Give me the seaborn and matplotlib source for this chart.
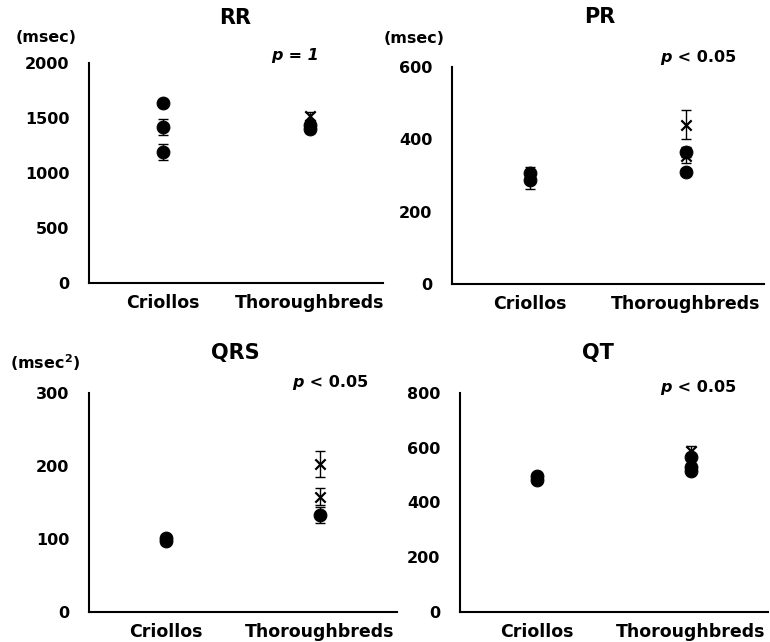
import matplotlib
matplotlib.use("Agg")
import matplotlib.pyplot as plt
import seaborn as sns
import pandas as pd

# categorías
grupos = ["Criollos", "Thoroughbreds"]

# RR (msec)
rr_crio = [1640, 1418, 1191]
rr_crio_err = [20, 73, 76]
rr_thor_circ = [1434, 1397]
rr_thor_circ_err = [30, 30]
rr_thor_x = [1520]
rr_thor_x_err = [35]

# PR (msec)
pr_crio = [308, 287]
pr_crio_err = [15, 25]
pr_thor_circ = [365, 310]
pr_thor_circ_err = [15, 8]
pr_thor_x = [440, 355]
pr_thor_x_err = [40, 20]

# QRS (msec2)
qrs_crio = [101, 97]
qrs_crio_err = [4, 4]
qrs_thor_circ = [133]
qrs_thor_circ_err = [11]
qrs_thor_x = [203, 158]
qrs_thor_x_err = [18, 12]

# QT (msec)
qt_crio = [495, 482]
qt_crio_err = [10, 10]
qt_thor_circ = [565, 530, 515]
qt_thor_circ_err = [10, 10, 10]
qt_thor_x = [588]
qt_thor_x_err = [20]

sns.set_theme(style="white")
plt.rcParams["font.family"] = ["DejaVu Sans"]
plt.rcParams["text.color"] = "black"
plt.rcParams["xtick.color"] = "black"
plt.rcParams["ytick.color"] = "black"

fig = plt.figure(figsize=(7.7, 6.42), dpi=100)

W, H = 770, 642


def caixa(l, t, r, b):
    return [l / W, 1 - b / H, (r - l) / W, (b - t) / H]


# titulo, posição, ymax, passo, unidade, (x,y) unidade, (x,y) título, (x,y) p, texto p, tudo itálico
paineis = [
    ("RR", caixa(89, 63, 383, 283), 2000, 500, "(msec)", (-0.25, 1.114), (0.497, 1.205),
     (0.62, 1.036), " = 1", True,
     rr_crio, rr_crio_err, rr_thor_circ, rr_thor_circ_err, rr_thor_x, rr_thor_x_err),
    ("PR", caixa(452, 67, 764, 284), 600, 200, "(msec)", (-0.22, 1.133), (0.474, 1.23),
     (0.667, 1.046), " < 0.05", False,
     pr_crio, pr_crio_err, pr_thor_circ, pr_thor_circ_err, pr_thor_x, pr_thor_x_err),
    ("QRS", caixa(89, 393, 397, 612), 300, 100, "(msec$^{\\mathbf{2}}$)", (-0.256, 1.137),
     (0.474, 1.183), (0.66, 1.046), " < 0.05", False,
     qrs_crio, qrs_crio_err, qrs_thor_circ, qrs_thor_circ_err, qrs_thor_x, qrs_thor_x_err),
    ("QT", caixa(460, 393, 768, 612), 800, 200, None, None, (0.448, 1.183),
     (0.65, 1.027), " < 0.05", False,
     qt_crio, qt_crio_err, qt_thor_circ, qt_thor_circ_err, qt_thor_x, qt_thor_x_err),
]

for (titulo, pos, ymax, passo, unidade, pos_un, pos_tit, pos_p, resto, todo_italico,
     crio, crio_err, tc, tc_err, tx, tx_err) in paineis:
    ax = fig.add_axes(pos)

    circ = pd.DataFrame({
        "grupo": [grupos[0]] * len(crio) + [grupos[1]] * len(tc),
        "valor": crio + tc,
        "erro": crio_err + tc_err,
    })
    xs = pd.DataFrame({
        "grupo": [grupos[1]] * len(tx),
        "valor": tx,
        "erro": tx_err,
    })

    ax.errorbar(circ["grupo"], circ["valor"], yerr=circ["erro"], fmt="none",
                ecolor="black", elinewidth=1, capsize=3.5, capthick=1, zorder=2)
    ax.errorbar(xs["grupo"], xs["valor"], yerr=xs["erro"], fmt="none",
                ecolor="black", elinewidth=1, capsize=3.5, capthick=1, zorder=2)
    sns.scatterplot(data=circ, x="grupo", y="valor", ax=ax, color="black",
                    marker="o", s=85, edgecolor="black", zorder=3)
    sns.scatterplot(data=xs, x="grupo", y="valor", ax=ax, color="black",
                    marker="x", s=55, linewidth=1.6, zorder=4)

    ax.set_xlim(-0.5, 1.5)
    ax.set_ylim(0, ymax)
    ax.set_yticks(range(0, ymax + 1, passo))
    ax.set_xlabel("")
    ax.set_ylabel("")

    sns.despine(ax=ax)
    for lado in ["left", "bottom"]:
        ax.spines[lado].set_color("black")
        ax.spines[lado].set_linewidth(1.5)
    ax.tick_params(axis="both", length=0)
    ax.tick_params(axis="y", pad=14, labelsize=11.5)
    ax.tick_params(axis="x", pad=8, labelsize=12.5)
    for lab in ax.get_xticklabels() + ax.get_yticklabels():
        lab.set_fontweight("bold")
        lab.set_color("black")

    ax.text(pos_tit[0], pos_tit[1], titulo, transform=ax.transAxes, fontsize=15,
            fontweight="bold", ha="center", va="center")

    if unidade:
        ax.text(pos_un[0], pos_un[1], unidade, transform=ax.transAxes, fontsize=11.5,
                fontweight="bold", ha="left", va="center")

    estilo_resto = "italic" if todo_italico else "normal"
    t1 = ax.text(pos_p[0], pos_p[1], "p", transform=ax.transAxes, fontsize=11.5,
                 fontweight="bold", style="italic", ha="left", va="center")
    ax.annotate(resto, xy=(1, 0), xycoords=t1, va="bottom", fontsize=11.5,
                fontweight="bold", style=estilo_resto)

fig.savefig("out.png", dpi=100)
